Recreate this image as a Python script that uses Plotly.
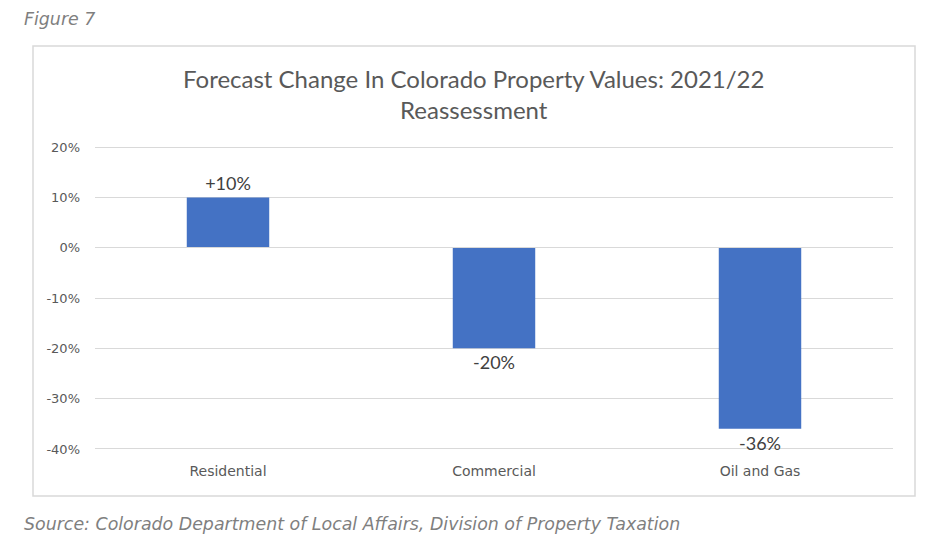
import plotly.graph_objects as go

# data
categories = ["Residential", "Commercial", "Oil and Gas"]
changes = [0.10, -0.20, -0.36]
labels = ["+10%", "-20%", "-36%"]
tick_vals = [0.20, 0.10, 0.0, -0.10, -0.20, -0.30, -0.40]
tick_text = ["20%", "10%", "0%", "-10%", "-20%", "-30%", "-40%"]

# page body adds ~8px, so work in shifted pixel coords
OFF = 8
W, H = 942 - OFF, 554 - OFF
L, R, T, B = 95 - OFF, 49, 137 - OFF, 95
pw, ph = W - L - R, H - T - B


def px(x):
    return (x - OFF - L) / pw


def py(y):
    return (H - B - (y - OFF)) / ph


fig = go.Figure()

fig.add_trace(
    go.Bar(
        x=categories, y=changes, text=labels, textposition="outside",
        texttemplate="%{text}", cliponaxis=False,
        marker=dict(color="#4472C4", line=dict(width=0)),
        textfont=dict(family="Lato", size=18, color="#404040"),
        hoverinfo="skip"
    )
)

fig.update_layout(
    width=W, height=H,
    margin=dict(l=L, r=R, t=T, b=B),
    plot_bgcolor="white", paper_bgcolor="white",
    showlegend=False, bargap=0.69,
)

fig.update_yaxes(
    range=[-0.42, 0.22], tickvals=tick_vals, ticktext=tick_text,
    showgrid=True, gridcolor="#d9d9d9", gridwidth=1,
    zeroline=True, zerolinecolor="#d9d9d9", zerolinewidth=1,
    zerolinelayer="above traces",
    showline=False, ticks="", ticklabelstandoff=14,
    tickfont=dict(family="DejaVu Sans", size=13, color="#595959"),
)
fig.update_xaxes(
    showgrid=False, showline=False, ticks="", ticklabelstandoff=2,
    tickfont=dict(family="DejaVu Sans", size=14, color="#595959"),
)

# outer chart frame
fig.add_shape(
    type="rect", xref="paper", yref="paper",
    x0=px(33), x1=px(915), y0=py(496), y1=py(46),
    line=dict(color="#d9d9d9", width=1.5), layer="below"
)

fig.add_annotation(
    text="Forecast Change In Colorado Property Values: 2021/22<br>Reassessment",
    xref="paper", yref="paper", x=px(473), y=py(94),
    showarrow=False, xanchor="center", yanchor="middle",
    font=dict(family="Lato", size=24, color="#595959"), align="center"
)
fig.add_annotation(
    text="<i>Figure 7</i>", xref="paper", yref="paper",
    x=px(22), y=py(19), showarrow=False, xanchor="left", yanchor="middle",
    font=dict(family="DejaVu Sans", size=17.4, color="#7f7f7f")
)
fig.add_annotation(
    text="<i>Source: Colorado Department of Local Affairs, Division of Property Taxation</i>",
    xref="paper", yref="paper", x=px(22), y=py(524), showarrow=False,
    xanchor="left", yanchor="middle",
    font=dict(family="DejaVu Sans", size=17.4, color="#7f7f7f")
)

fig.write_html("out.html")
